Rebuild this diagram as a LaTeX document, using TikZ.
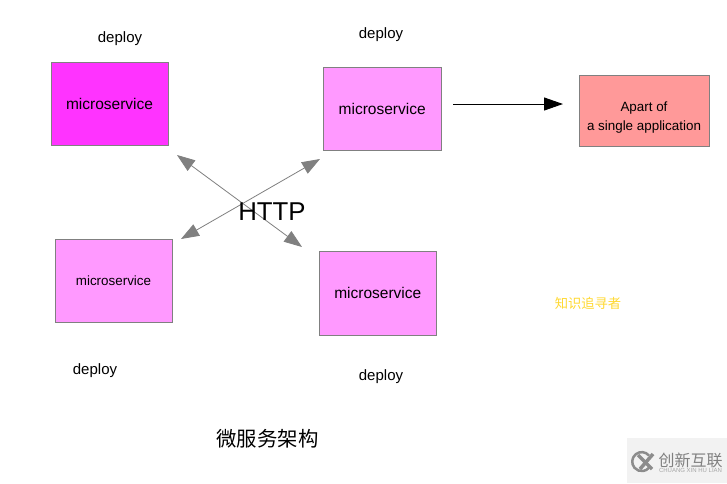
\documentclass[tikz,border=0pt]{standalone}
\usepackage{fontspec}
\usetikzlibrary{arrows.meta}
\setmainfont{Liberation Sans}
\newfontfamily\cjk{Noto Sans CJK SC}
\definecolor{pinklight}{HTML}{FF99FF}
\definecolor{pinkdeep}{HTML}{FF33FF}
\definecolor{salmon}{HTML}{FF9999}
\definecolor{edgegray}{HTML}{808080}
\tikzset{
  svcbox/.style={draw=edgegray,line width=1pt,minimum width=117pt,minimum height=83pt,inner sep=0pt,text=black,font=\fontsize{15.5}{18}\selectfont},
  lbl/.style={inner sep=0pt,text=black,font=\fontsize{15}{18}\selectfont},
  grayarrow/.style={draw=edgegray,line width=0.8pt,{Triangle[length=18pt,width=13pt,fill=edgegray]}-{Triangle[length=18pt,width=13pt,fill=edgegray]}},
  blackarrow/.style={draw=black,line width=1pt,-{Triangle[length=19pt,width=13pt,fill=black]}}
}
\begin{document}
\begin{tikzpicture}[x=1pt,y=-1pt]
\useasboundingbox (0,0) rectangle (727,483);
\fill[white] (0,0) rectangle (727,483);
\node[svcbox,fill=pinkdeep] (b1) at (109.5,104) {\raisebox{0.5pt}{microservice}};
\node[svcbox,fill=pinklight,minimum width=118pt] (b2) at (382.2,108.5) {microservice};
\node[svcbox,fill=pinklight,font=\fontsize{13.4}{16}\selectfont] (b3) at (113.5,280.5) {\raisebox{0.5pt}{microservice}};
\node[svcbox,fill=pinklight,minimum width=117.5pt,minimum height=84pt] (b4) at (377.8,293) {microservice};
\node[svcbox,fill=salmon,minimum width=130pt,minimum height=71pt,font=\fontsize{13.4}{18}\selectfont] (b5) at (644,110.5) {\raisebox{-19.5pt}[0pt][0pt]{\shortstack{Apart of\\[3pt]a single application}}};
\node[lbl] (d1) at (120,39) {deploy};
\node[lbl] (d2) at (381,35) {deploy};
\node[lbl] (d3) at (95,371) {deploy};
\node[lbl] (d4) at (381,377) {deploy};
\coordinate (a1s) at (177,155);
\coordinate (a1e) at (302,247);
\coordinate (a2s) at (320,159);
\coordinate (a2e) at (181,239);
\coordinate (a3s) at (453,104);
\coordinate (a3e) at (563,104);
\draw[grayarrow] (a1s) -- (a1e);
\draw[grayarrow] (a2s) -- (a2e);
\draw[blackarrow] (a3s) -- (a3e);
\node[lbl,font=\fontsize{25.8}{30}\selectfont] (http) at (272,212) {HTTP};
\node[inner sep=0pt,text=black,font=\cjk\fontsize{20.4}{24}\selectfont] (title) at (267.5,438.5) {微服务架构};
\node[inner sep=0pt,text={rgb,255:red,255;green,217;blue,50},font=\cjk\fontsize{13.3}{16}\selectfont] (author) at (588,303) {知识追寻者};
% watermark
\fill[black!5] (627,438) rectangle (727,483);
\draw[black!45,line width=2.5pt] (649,455.5) arc[start angle=40,end angle=320,radius=9.5pt];
\draw[black!45,line width=3.5pt] (638,455) -- (652,469);
\draw[black!45,line width=3.5pt] (640,469) -- (653,454);
\node[inner sep=0pt,text=black!50,font=\cjk\fontsize{16}{18}\selectfont] (wm) at (690.5,460) {创新互联};
\node[inner sep=0pt,text=black!35,font=\fontsize{6}{6}\selectfont] (wm2) at (690.5,470.5) {CHUANG XIN HU LIAN};
\end{tikzpicture}
\end{document}
